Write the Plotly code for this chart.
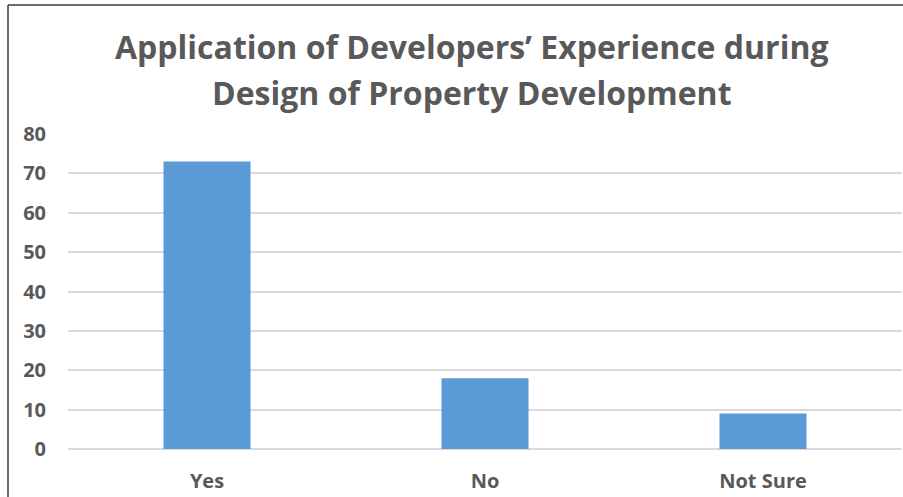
import plotly.graph_objects as go

categories = ["Yes", "No", "Not Sure"]
values = [73, 18, 9]
y_ticks = [0, 10, 20, 30, 40, 50, 60, 70, 80]
title_lines = ["Application of Developers’ Experience during", "Design of Property Development"]

W, H = 903, 497
L, R, T, B = 68, 1, 134, 48
pw = W - L - R
ph = H - T - B

def px_x(x):
    return (x - L) / pw

def px_y(y):
    return (H - B - y) / ph

fig = go.Figure(go.Bar(
    x=categories, y=values, marker=dict(color="#5B9BD5", line=dict(width=0)),
    width=0.313,
))

gray = "#595959"
tick_font = dict(size=20, color=gray, family="Open Sans", weight="bold")
fig.update_layout(
    width=W, height=H,
    margin=dict(l=L, r=R, t=T, b=B),
    paper_bgcolor="white", plot_bgcolor="white",
    showlegend=False,
    font=dict(family="Open Sans", color=gray),
    xaxis=dict(showgrid=False, showline=False, ticks="",
               tickfont=tick_font, ticklabelstandoff=18),
    yaxis=dict(range=[0, 80], tickvals=y_ticks, showgrid=True, gridcolor="#D9D9D9", gridwidth=2,
               zeroline=True, zerolinecolor="#D9D9D9", zerolinewidth=2, showline=False,
               tickfont=tick_font, ticklabelstandoff=21),
    annotations=[
        dict(text=title_lines[0], xref="paper", yref="paper", x=px_x(472), y=px_y(46),
             xanchor="center", yanchor="middle", showarrow=False,
             font=dict(size=32, color=gray, family="Open Sans", weight="bold")),
        dict(text=title_lines[1], xref="paper", yref="paper", x=px_x(472), y=px_y(92),
             xanchor="center", yanchor="middle", showarrow=False,
             font=dict(size=32, color=gray, family="Open Sans", weight="bold")),
    ],
    shapes=[
        dict(type="line", xref="paper", yref="paper", x0=px_x(8), x1=px_x(8), y0=px_y(5), y1=px_y(500),
             line=dict(color="#3a3a3a", width=1.5)),
        dict(type="line", xref="paper", yref="paper", x0=px_x(8), x1=px_x(905), y0=px_y(5), y1=px_y(5),
             line=dict(color="#3a3a3a", width=1.5)),
    ],
)

fig.write_html("out.html")
